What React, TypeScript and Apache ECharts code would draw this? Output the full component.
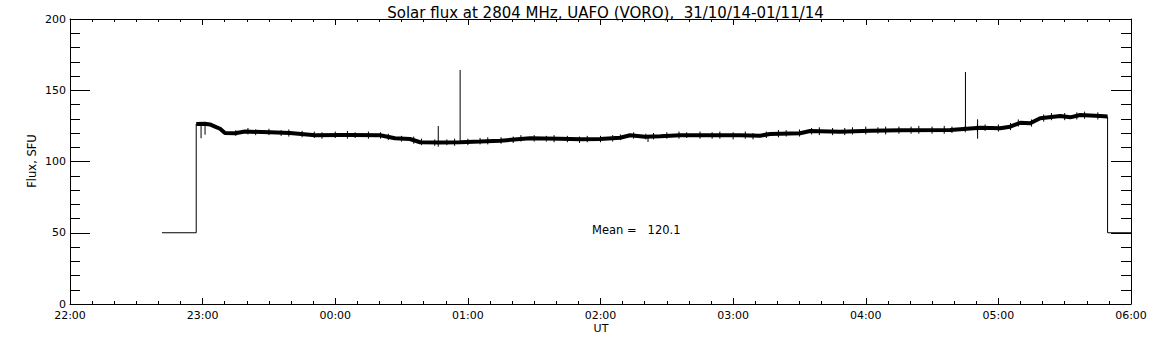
import React, { useEffect, useRef } from "react";
import * as echarts from "echarts";

// minutes after 22:00 UT
const stepTimes = [41.6, 57.1, 57.1];
const stepValues = [50, 50, 126.3];
const endTimes = [469.4, 469.4, 480];
const endValues = [131.5, 50, 50];

const fluxTimes = [57.1, 61, 63.3, 65.6, 67.9, 70.1, 74.7, 79.2, 90.5, 99.5, 110.9, 122.2, 126.7, 140.3, 147, 153.8, 158.4, 167.4, 176.5, 185.5, 194.6, 208.1, 221.7, 230.8, 239.8, 248.9, 253.4, 260.2, 267, 276, 285, 303.2, 312.2, 316.7, 330.3, 334.8, 348.4, 362, 375.6, 398.2, 411.8, 420.8, 425.3, 429.9, 434.4, 438.9, 448, 452.5, 457, 466.1, 469.4];
const fluxValues = [126.3, 126.5, 126, 124.5, 123, 120, 119.8, 121, 120.5, 120, 118.5, 118.6, 118.6, 118.4, 116.3, 115.8, 113.5, 113.3, 113.5, 114, 114.6, 116.3, 116, 115.6, 115.8, 116.7, 118.4, 117.4, 117.7, 118.5, 118.4, 118.4, 118.1, 119.3, 119.8, 121.4, 120.9, 121.6, 122, 122.1, 123.7, 123.3, 124.4, 127.2, 126.8, 130.3, 131.9, 131, 132.6, 131.9, 131.5];

const spikeTimes = [59.3, 61.1, 166.6, 176.5, 261.5, 405.1, 410.6];
const spikeLow = [116.3, 118.8, 110.4, 113.3, 113.7, 122, 116];
const spikeHigh = [126.5, 126.5, 124.9, 164.2, 118, 162.8, 129.6];

const noiseTimes = [75, 80.5, 84, 90, 95.5, 99, 105, 110.5, 114, 120, 125.5, 129, 135, 140.5, 144, 150, 155.5, 159, 165, 170.5, 174, 180, 185.5, 189, 195, 200.5, 204, 210, 215.5, 219, 225, 230.5, 234, 240, 245.5, 249, 255, 260.5, 264, 270, 275.5, 279, 285, 290.5, 294, 300, 305.5, 309, 315, 320.5, 324, 330, 335.5, 339, 345, 350.5, 354, 360, 365.5, 369, 375, 380.5, 384, 390, 395.5, 399, 405, 410.5, 414, 420, 425.5, 429, 435, 440.5, 444, 450, 455.5, 459, 465];
const noiseLow = [118, 119, 118.5, 118.5, 118, 117.5, 117, 116.5, 116, 116.5, 116, 116.5, 116, 116, 115, 114, 112.5, 111.5, 111, 111.5, 111, 111.5, 112, 112, 112.5, 113, 114, 114, 114, 113.5, 113.5, 113, 113.5, 113.5, 114, 115, 116, 115.5, 115.5, 116, 116, 116.5, 116, 116, 116, 115.5, 116, 115.5, 116.5, 117, 117.5, 117.5, 119, 118.5, 118.5, 118.5, 119, 119, 119.5, 119, 119.5, 119.5, 119.5, 119.5, 119.5, 120, 120.5, 121, 121.5, 121, 122, 124.5, 124.5, 128, 129, 129, 129.5, 130, 129.5];
const noiseHigh = [122, 123.5, 122.5, 123, 122, 122.5, 121.5, 121, 120.5, 121, 121.5, 120.5, 121, 120.5, 119.5, 118, 117.5, 116, 115.5, 115.5, 116, 116, 116.5, 117, 117, 117.5, 118.5, 118.5, 118, 118.5, 118, 117.5, 118, 118, 118.5, 119, 120.5, 119.5, 120, 120.5, 121, 120.5, 121, 120.5, 121, 120.5, 121, 120, 121, 122, 122, 122.5, 123.5, 124, 123.5, 123.5, 124, 124.5, 124, 124.5, 124.5, 124.5, 125, 124.5, 125, 124.5, 125, 126, 126, 126, 127, 129.5, 129.5, 133, 134, 134, 134.5, 135, 134.5];

const titleText = "Solar flux at 2804 MHz, UAFO (VORO),  31/10/14-01/11/14";
const meanText = "Mean =   120.1";

const FONT = "DejaVu Sans";

function timeLabel(v: number): string {
  const total = (22 * 60 + Math.round(v)) % (24 * 60);
  const h = Math.floor(total / 60);
  const m = total % 60;
  return String(h).padStart(2, "0") + ":" + String(m).padStart(2, "0");
}

function vbars(ts: number[], lo: number[], hi: number[]) {
  const out: any[] = [];
  ts.forEach((t, i) => {
    out.push([t, lo[i]]);
    out.push([t, hi[i]]);
    out.push([t, "-"]);
  });
  return out;
}

export default function App() {
  const ref = useRef<HTMLDivElement>(null);
  useEffect(() => {
    document.body.style.margin = "0";
    const chart = echarts.init(ref.current!, null, { renderer: "svg" });
    const black = "#000";
    const xBase = (showLabel: boolean, pos: string) => ({
      type: "value",
      position: pos,
      min: 0,
      max: 480,
      interval: 60,
      axisLine: { show: true, onZero: false, lineStyle: { color: black, width: 1 } },
      axisTick: { show: true, inside: true, length: 6, lineStyle: { color: black, width: 1 } },
      minorTick: { show: true, splitNumber: 6, length: 3, lineStyle: { color: black, width: 1 } },
      splitLine: { show: false },
      minorSplitLine: { show: false },
      axisLabel: {
        show: showLabel,
        formatter: (v: number) => timeLabel(v),
        color: black,
        fontFamily: FONT,
        fontSize: 11,
        margin: 6,
        showMinLabel: true,
        showMaxLabel: true,
      },
    });
    const yBase = (showLabel: boolean, pos: string) => ({
      type: "value",
      position: pos,
      min: 0,
      max: 200,
      interval: 50,
      axisLine: { show: true, onZero: false, lineStyle: { color: black, width: 1 } },
      axisTick: { show: true, inside: true, length: 20, lineStyle: { color: black, width: 1 } },
      minorTick: { show: true, splitNumber: 5, length: 10, lineStyle: { color: black, width: 1 } },
      splitLine: { show: false },
      minorSplitLine: { show: false },
      axisLabel: {
        show: showLabel,
        color: black,
        fontFamily: FONT,
        fontSize: 11,
        margin: 4,
      },
    });
    const fluxData = fluxTimes.map((t, i) => [t, fluxValues[i]]);
    chart.setOption({
      animation: false,
      backgroundColor: "#fff",
      grid: { left: 70, right: 21, top: 19, bottom: 41, containLabel: false, outerBoundsMode: "none" },
      title: {
        text: titleText,
        left: 600.5,
        top: 0,
        textAlign: "center",
        textStyle: { color: black, fontFamily: FONT, fontSize: 15, fontWeight: "normal" },
      },
      xAxis: [xBase(true, "bottom"), xBase(false, "top")],
      yAxis: [yBase(true, "left"), yBase(false, "right")],
      graphic: [
        {
          type: "text",
          x: 32,
          y: 161,
          rotation: Math.PI / 2,
          style: {
            text: "Flux, SFU",
            fill: black,
            font: "11.5px " + FONT,
            textAlign: "center",
            textVerticalAlign: "middle",
          },
        },
        {
          type: "text",
          x: 601,
          y: 328,
          style: { text: "UT", fill: black, font: "11px " + FONT, textAlign: "center", textVerticalAlign: "middle" },
        },
        {
          type: "text",
          x: 592,
          y: 230,
          style: { text: meanText, fill: black, font: "11.5px " + FONT, textAlign: "left", textVerticalAlign: "middle" },
        },
      ],
      series: [
        {
          type: "line",
          data: stepTimes.map((t, i) => [t, stepValues[i]]),
          symbol: "none",
          lineStyle: { color: black, width: 1 },
        },
        {
          type: "line",
          data: endTimes.map((t, i) => [t, endValues[i]]),
          symbol: "none",
          lineStyle: { color: black, width: 1 },
        },
        {
          type: "line",
          data: fluxData,
          symbol: "none",
          lineStyle: { color: black, width: 4 },
        },
        {
          type: "line",
          data: vbars(noiseTimes, noiseLow, noiseHigh),
          symbol: "none",
          connectNulls: false,
          lineStyle: { color: black, width: 1 },
        },
        {
          type: "line",
          data: vbars(spikeTimes, spikeLow, spikeHigh),
          symbol: "none",
          connectNulls: false,
          lineStyle: { color: black, width: 1 },
        },
      ],
    });
    return () => chart.dispose();
  }, []);
  return <div ref={ref} style={{ position: "absolute", left: 0, top: 0, width: 1152, height: 345 }} />;
}
